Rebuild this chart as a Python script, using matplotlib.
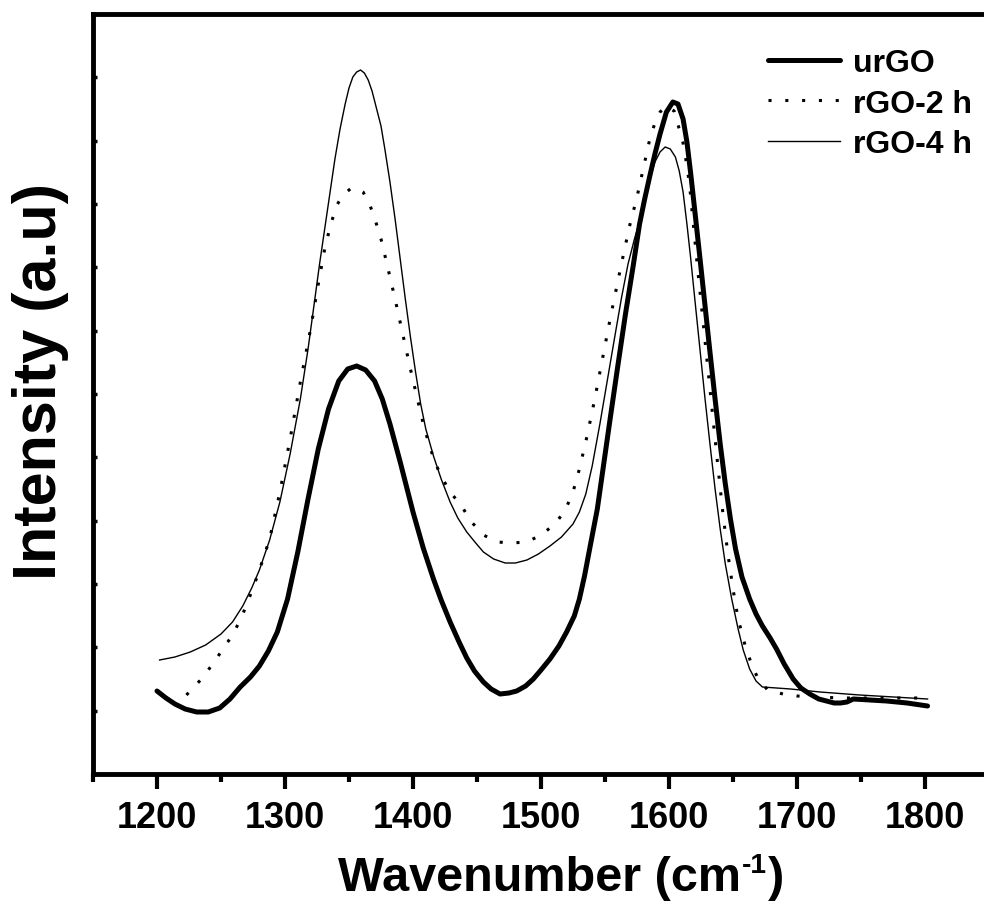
import matplotlib
matplotlib.use("Agg")
import matplotlib.pyplot as plt
import numpy as np

# ---------------- data (wavenumber, intensity a.u.) ----------------
urgo_x = [1200, 1207, 1214, 1222, 1231, 1240, 1249, 1257, 1265, 1273, 1280, 1287, 1294,
          1302, 1310, 1318, 1326, 1334, 1342, 1349, 1356, 1363, 1370, 1376, 1382, 1390,
          1400, 1408, 1416, 1422, 1429, 1436, 1442, 1448, 1455, 1461, 1468, 1475, 1481,
          1488, 1494, 1500, 1507, 1514, 1520, 1526, 1530, 1534, 1538, 1544, 1549, 1554,
          1560, 1566, 1572, 1577, 1581, 1585, 1589, 1593, 1598, 1603, 1607, 1611, 1614,
          1617, 1620, 1624, 1628, 1632, 1636, 1640, 1644, 1648, 1652, 1657, 1663, 1668,
          1673, 1679, 1684, 1690, 1697, 1703, 1710, 1717, 1723, 1729, 1734, 1739, 1744,
          1757, 1770, 1786, 1802]
urgo_y = [83, 76, 70, 65, 62, 62, 66, 75, 87, 97, 108, 123, 142,
          175, 222, 275, 325, 365, 393, 405, 408, 404, 393, 375, 350, 312,
          262, 226, 195, 174, 152, 132, 116, 103, 92, 85, 80, 81, 83,
          88, 95, 104, 115, 128, 142, 158, 175, 198, 225, 265, 310, 355,
          408, 460, 508, 550, 575, 598, 620, 640, 662, 672, 670, 655, 632,
          600, 565, 518, 470, 422, 375, 330, 290, 255, 225, 197, 175, 160,
          148, 136, 125, 110, 95, 86, 80, 75, 73, 71, 71, 72, 75,
          74, 73, 71, 68]

rgo2_x = [1223, 1234, 1243, 1251, 1259, 1265, 1270, 1279, 1288, 1296, 1304, 1312, 1320,
          1326, 1331, 1336, 1341, 1346, 1351, 1356, 1361, 1366, 1370, 1375, 1380, 1386,
          1392, 1398, 1404, 1409, 1415, 1421, 1429, 1438, 1445, 1455, 1466, 1477, 1489,
          1500, 1511, 1519, 1525, 1530, 1536, 1542, 1548, 1554, 1562, 1569, 1575, 1580,
          1585, 1589, 1593, 1598, 1604, 1608, 1611, 1613, 1616, 1619, 1622, 1626, 1630,
          1634, 1638, 1642, 1646, 1650, 1654, 1660, 1665, 1669, 1677, 1689, 1700, 1734,
          1770, 1802]
rgo2_y = [79, 94, 109, 124, 139, 154, 169, 200, 235, 282, 335, 392, 445,
          490, 525, 551, 570, 580, 585, 586, 582, 570, 556, 535, 508, 475,
          440, 405, 372, 345, 320, 300, 282, 268, 253, 239, 232, 231, 232,
          239, 250, 264, 282, 305, 338, 375, 415, 455, 505, 547, 577, 606,
          635, 651, 662, 668, 663, 645, 631, 616, 590, 550, 510, 460, 410,
          360, 310, 262, 220, 185, 155, 126, 108, 97, 84, 80, 78, 76,
          76, 76]

rgo4_x = [1202, 1214, 1226, 1238, 1250, 1259, 1267, 1274, 1280, 1288, 1296, 1304, 1312,
          1318, 1323, 1327, 1331, 1335, 1339, 1343, 1347, 1350, 1353, 1356, 1359, 1362,
          1365, 1368, 1371, 1375, 1378, 1382, 1386, 1390, 1394, 1398, 1402, 1406, 1410,
          1416, 1422, 1429, 1435, 1442, 1449, 1455, 1463, 1472, 1480, 1489, 1498, 1507,
          1516, 1525, 1530, 1535, 1540, 1546, 1552, 1558, 1563, 1568, 1573, 1577, 1581,
          1585, 1589, 1593, 1597, 1601, 1605, 1608, 1611, 1614, 1617, 1620, 1624, 1628,
          1632, 1636, 1640, 1644, 1649, 1654, 1658, 1663, 1668, 1673, 1695, 1718, 1749,
          1802]
rgo4_y = [114, 117, 122, 129, 140, 152, 168, 186, 204, 234, 272, 320, 375,
          425, 472, 510, 545, 580, 615, 645, 670, 686, 697, 702, 704, 701,
          694, 683, 668, 648, 625, 592, 555, 515, 475, 437, 402, 370, 345,
          318, 295, 272, 256, 242, 231, 222, 215, 211, 211, 214, 220, 228,
          237, 250, 262, 280, 308, 350, 395, 440, 477, 510, 535, 553, 575,
          595, 612, 622, 627, 625, 617, 603, 582, 550, 515, 477, 427, 377,
          330, 285, 245, 210, 175, 145, 124, 105, 93, 87, 85, 82, 79,
          75]

labels = ["urGO", "rGO-2 h", "rGO-4 h"]
xticks = [1200, 1300, 1400, 1500, 1600, 1700, 1800]

# ---------------- figure ----------------
W, H = 984, 903
fig = plt.figure(figsize=(W / 100, H / 100), dpi=100)
ax = fig.add_axes([93 / W, 1 - 775 / H, (989 - 93) / W, (775 - 15) / H])

ax.plot(urgo_x, urgo_y, color="black", lw=3.6, label=labels[0],
        solid_joinstyle="round", solid_capstyle="round")
ax.plot(rgo2_x, rgo2_y, color="black", lw=2.2, linestyle=(0, (1, 4.5)),
        label=labels[1])
ax.plot(rgo4_x, rgo4_y, color="black", lw=1.0, label=labels[2])

ax.set_xlim(1150, 1850)
ax.set_ylim(0, 760)

ax.set_xticks(xticks)
ax.set_xticks(np.arange(1150, 1851, 50), minor=True)
ax.set_xticklabels([str(t) for t in xticks])
ax.set_yticks(np.linspace(0, 760, 13))
ax.set_yticklabels([])

for sp in ax.spines.values():
    sp.set_linewidth(3.5)

ax.tick_params(axis="x", which="major", direction="out", length=11, width=3,
               pad=8, labelsize=26, top=False)
ax.tick_params(axis="x", which="minor", direction="out", length=5.5, width=3,
               top=False)
ax.tick_params(axis="y", which="major", direction="in", length=3, width=2.5,
               left=True, right=False)
for lab in ax.get_xticklabels():
    lab.set_fontfamily("Liberation Sans")
    lab.set_fontweight("bold")

leg = ax.legend(loc="upper left", bbox_to_anchor=(768 / W, 1 - 49 / H),
                bbox_transform=fig.transFigure, frameon=False, borderpad=0,
                borderaxespad=0, handlelength=2.25, handletextpad=0.4,
                labelspacing=0.33,
                prop={"family": "Liberation Sans", "weight": "bold", "size": 23})

# ---- x label built from pieces so the superscript is a short hyphen ----
fs = 35
tkw = dict(fontweight="bold", family="Liberation Sans", va="baseline", ha="left")
yb = 1 - 891 / H
t1 = fig.text(0, yb, "Wavenumber (cm", fontsize=fs, **tkw)
t2 = fig.text(0, yb + 18 / H, "-1", fontsize=fs * 0.58, **tkw)
t3 = fig.text(0, yb, ")", fontsize=fs, **tkw)
r = fig.canvas.get_renderer()
w1 = t1.get_window_extent(renderer=r).width
w2 = t2.get_window_extent(renderer=r).width
w3 = t3.get_window_extent(renderer=r).width
x0 = 560 - (w1 + w2 + w3) / 2
t1.set_x(x0 / W)
t2.set_x((x0 + w1 + 1) / W)
t3.set_x((x0 + w1 + w2 + 2) / W)

fig.text(56 / W, 1 - 382 / H, "Intensity (a.u)", rotation=90,
         rotation_mode="anchor", ha="center", va="baseline", fontsize=44,
         fontweight="bold", family="Liberation Sans")

fig.savefig("out.png", dpi=100)
